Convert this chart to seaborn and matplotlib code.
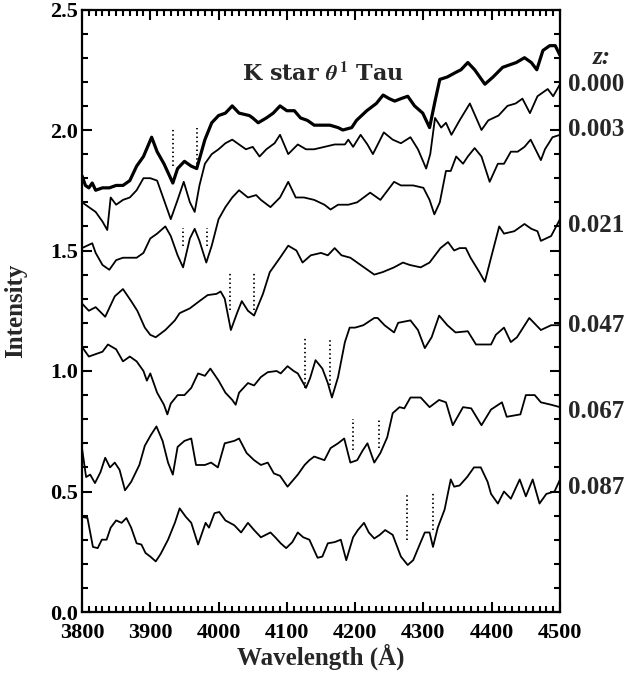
import matplotlib
matplotlib.use("Agg")
import matplotlib.pyplot as plt
from matplotlib.ticker import MultipleLocator, FormatStrFormatter
import pandas as pd
import seaborn as sns

# ---------------- data (wavelength [A], intensity) ----------------
kstar = [(3800,1.81),(3805,1.77),(3810,1.76),(3815,1.78),(3820,1.75),(3830,1.76),(3840,1.76),
         (3850,1.77),(3860,1.77),(3870,1.79),(3880,1.85),(3890,1.89),(3902,1.97),(3910,1.91),
         (3920,1.86),(3933,1.78),(3940,1.84),(3950,1.87),(3960,1.85),(3968,1.84),(3980,1.96),
         (3990,2.03),(4000,2.06),(4010,2.07),(4020,2.10),(4030,2.07),(4045,2.06),(4050,2.05),
         (4058,2.03),(4070,2.05),(4080,2.07),(4090,2.10),(4100,2.08),(4111,2.08),(4120,2.05),
         (4130,2.04),(4140,2.02),(4150,2.02),(4163,2.02),(4175,2.01),(4182,2.00),(4195,2.01),
         (4202,2.04),(4217,2.08),(4231,2.11),(4241,2.145),(4250,2.13),(4258,2.12),(4267,2.13),
         (4277,2.14),(4287,2.10),(4299,2.07),(4309,2.01),(4317,2.12),(4324,2.21),(4335,2.22),
         (4348,2.24),(4355,2.25),(4365,2.28),(4375,2.25),(4390,2.19),(4402,2.22),(4416,2.26),
         (4436,2.28),(4448,2.30),(4458,2.28),(4466,2.25),(4475,2.33),(4485,2.35),(4493,2.35),
         (4500,2.31)]

z000 = [(3800,1.70),(3810,1.68),(3820,1.66),(3830,1.62),(3837,1.585),(3842,1.72),(3850,1.69),
        (3860,1.71),(3870,1.72),(3880,1.75),(3890,1.80),(3900,1.80),(3910,1.79),(3920,1.71),
        (3930,1.63),(3940,1.71),(3949,1.785),(3958,1.70),(3965,1.66),(3972,1.77),(3980,1.86),
        (3990,1.90),(4000,1.92),(4010,1.945),(4020,1.96),(4030,1.94),(4040,1.92),(4050,1.93),
        (4060,1.89),(4070,1.92),(4082,1.945),(4090,1.98),(4102,1.90),(4116,1.94),(4128,1.92),
        (4140,1.92),(4155,1.93),(4170,1.94),(4185,1.94),(4190,1.96),(4197,1.93),(4208,1.98),
        (4218,1.94),(4226,1.90),(4242,1.99),(4255,1.96),(4267,1.945),(4281,1.97),(4292,1.92),
        (4304,1.84),(4310,1.90),(4317,2.05),(4326,2.01),(4333,2.03),(4341,1.98),(4353,2.04),
        (4368,2.11),(4385,2.00),(4395,2.04),(4410,2.06),(4423,2.10),(4435,2.11),(4445,2.13),
        (4456,2.07),(4467,2.14),(4482,2.17),(4490,2.14),(4500,2.19)]

z003 = [(3800,1.51),(3815,1.53),(3820,1.49),(3830,1.44),(3840,1.42),(3850,1.46),(3860,1.47),
        (3870,1.47),(3880,1.47),(3890,1.49),(3900,1.55),(3910,1.57),(3922,1.60),(3930,1.56),
        (3940,1.48),(3948,1.43),(3958,1.55),(3965,1.59),(3972,1.54),(3982,1.45),(3990,1.52),
        (4000,1.63),(4010,1.68),(4020,1.72),(4030,1.75),(4043,1.72),(4055,1.73),(4062,1.71),
        (4076,1.68),(4090,1.72),(4102,1.785),(4113,1.72),(4125,1.72),(4140,1.71),(4155,1.69),
        (4164,1.67),(4175,1.69),(4190,1.69),(4203,1.70),(4222,1.74),(4237,1.71),(4257,1.785),
        (4267,1.77),(4285,1.77),(4300,1.76),(4309,1.71),(4316,1.65),(4324,1.70),(4333,1.83),
        (4340,1.83),(4348,1.89),(4358,1.86),(4365,1.89),(4375,1.925),(4385,1.89),(4397,1.785),
        (4409,1.86),(4418,1.86),(4428,1.91),(4438,1.91),(4448,1.93),(4457,1.96),(4472,1.875),
        (4478,1.92),(4489,1.97),(4500,1.98)]

z021 = [(3800,1.28),(3810,1.25),(3820,1.265),(3834,1.225),(3848,1.31),(3860,1.34),(3872,1.29),
        (3881,1.25),(3892,1.18),(3900,1.15),(3908,1.14),(3922,1.17),(3936,1.21),(3943,1.24),
        (3958,1.26),(3972,1.29),(3984,1.315),(3997,1.32),(4003,1.33),(4009,1.30),(4018,1.17),
        (4027,1.24),(4034,1.29),(4043,1.25),(4052,1.23),(4065,1.32),(4075,1.41),(4090,1.47),
        (4102,1.52),(4114,1.50),(4123,1.45),(4135,1.48),(4150,1.49),(4160,1.48),(4170,1.51),
        (4180,1.48),(4193,1.47),(4213,1.43),(4228,1.40),(4240,1.41),(4257,1.43),(4270,1.45),
        (4280,1.44),(4296,1.43),(4309,1.45),(4325,1.51),(4336,1.535),(4345,1.50),(4353,1.51),
        (4362,1.51),(4369,1.47),(4382,1.41),(4390,1.37),(4399,1.47),(4411,1.60),(4418,1.57),
        (4433,1.58),(4448,1.61),(4458,1.59),(4467,1.58),(4472,1.54),(4487,1.56),(4500,1.63)]

z047 = [(3800,1.10),(3810,1.06),(3820,1.07),(3830,1.08),(3838,1.11),(3850,1.09),(3860,1.04),
        (3870,1.06),(3880,1.04),(3890,1.00),(3895,0.96),(3900,0.99),(3910,0.91),(3920,0.86),
        (3925,0.82),(3930,0.865),(3940,0.90),(3950,0.90),(3960,0.93),(3970,0.99),(3980,0.98),
        (3988,1.01),(4000,0.96),(4010,0.91),(4020,0.88),(4025,0.86),(4030,0.91),(4043,0.95),
        (4052,0.94),(4062,0.975),(4072,0.995),(4085,1.00),(4091,0.99),(4101,1.02),(4110,1.00),
        (4116,0.99),(4128,0.93),(4134,0.97),(4142,1.045),(4152,1.01),(4160,0.95),(4166,0.89),
        (4175,0.975),(4185,1.12),(4192,1.18),(4200,1.18),(4212,1.19),(4228,1.22),(4233,1.22),
        (4243,1.19),(4257,1.16),(4263,1.20),(4281,1.21),(4292,1.17),(4302,1.095),(4312,1.14),
        (4323,1.23),(4335,1.19),(4347,1.16),(4365,1.165),(4377,1.11),(4399,1.11),(4406,1.15),
        (4418,1.18),(4428,1.12),(4437,1.14),(4455,1.22),(4472,1.17),(4487,1.19),(4500,1.19)]

z067 = [(3800,0.68),(3806,0.56),(3812,0.57),(3819,0.535),(3827,0.58),(3834,0.64),(3841,0.60),
        (3848,0.62),(3855,0.59),(3863,0.505),(3872,0.54),(3884,0.61),(3892,0.69),(3901,0.735),
        (3909,0.77),(3918,0.71),(3926,0.62),(3933,0.57),(3940,0.685),(3950,0.71),(3960,0.72),
        (3967,0.61),(3980,0.61),(3989,0.62),(3999,0.60),(4009,0.70),(4023,0.71),(4030,0.72),
        (4041,0.66),(4052,0.63),(4062,0.61),(4072,0.62),(4081,0.575),(4090,0.565),(4101,0.52),
        (4110,0.55),(4116,0.57),(4126,0.61),(4133,0.63),(4140,0.645),(4155,0.63),(4164,0.68),
        (4175,0.70),(4184,0.72),(4193,0.62),(4203,0.63),(4211,0.67),(4218,0.70),(4228,0.62),
        (4237,0.66),(4247,0.725),(4255,0.825),(4265,0.85),(4272,0.845),(4281,0.89),(4296,0.89),
        (4309,0.85),(4323,0.88),(4333,0.87),(4343,0.775),(4358,0.85),(4370,0.845),(4385,0.775),
        (4399,0.84),(4415,0.87),(4422,0.81),(4442,0.82),(4450,0.90),(4463,0.90),(4472,0.87),
        (4487,0.86),(4500,0.85)]

z087 = [(3800,0.395),(3808,0.39),(3816,0.27),(3823,0.265),(3829,0.30),(3836,0.30),(3842,0.35),
        (3850,0.38),(3858,0.37),(3865,0.39),(3872,0.35),(3880,0.285),(3887,0.28),(3893,0.245),
        (3900,0.23),(3908,0.21),(3915,0.24),(3926,0.30),(3936,0.37),(3943,0.43),(3952,0.395),
        (3960,0.37),(3970,0.28),(3981,0.37),(3986,0.35),(3994,0.41),(4001,0.415),(4010,0.38),
        (4023,0.36),(4033,0.33),(4043,0.37),(4052,0.34),(4062,0.31),(4076,0.33),(4083,0.31),
        (4091,0.285),(4099,0.265),(4108,0.29),(4116,0.33),(4124,0.31),(4133,0.30),(4145,0.225),
        (4152,0.23),(4160,0.285),(4170,0.29),(4179,0.30),(4187,0.215),(4197,0.31),(4204,0.34),
        (4213,0.37),(4220,0.33),(4228,0.305),(4236,0.32),(4244,0.34),(4255,0.32),(4267,0.23),
        (4277,0.195),(4285,0.215),(4296,0.29),(4302,0.33),(4309,0.33),(4314,0.27),(4321,0.35),
        (4331,0.425),(4340,0.55),(4345,0.52),(4353,0.525),(4364,0.56),(4374,0.60),(4384,0.60),
        (4394,0.54),(4399,0.49),(4409,0.45),(4418,0.50),(4428,0.47),(4441,0.55),(4450,0.48),
        (4460,0.55),(4470,0.45),(4480,0.49),(4492,0.50),(4500,0.55)]

galaxies = [z000, z003, z021, z047, z067, z087]
z_labels = ["0.000", "0.003", "0.021", "0.047", "0.067", "0.087"]

# Ca II H & K rest wavelengths and the redshifts of the marker pairs
hk_rest = [3933.7, 3968.5]
mark_z = [0.0, 0.0035, 0.021, 0.049, 0.067, 0.087]
mark_top = [2.01, 1.593, 1.407, 1.137, 0.80, 0.494]
mark_bottom = [[1.85, 1.86], [1.52, 1.52], [1.253, 1.253], [0.93, 0.94], [0.672, 0.68], [0.30, 0.34]]

# ---------------- style ----------------
sns.set_style("ticks")
plt.rcParams.update({
    "font.family": ["Liberation Serif", "DejaVu Serif"],
    "font.weight": "bold",
    "axes.labelweight": "bold",
    "mathtext.fontset": "stix",
})

fig = plt.figure(figsize=(6.37, 6.77), dpi=100)
ax = fig.add_axes([82 / 637, 1 - 612 / 677, 478 / 637, 602.5 / 677])

sns.lineplot(data=pd.DataFrame(kstar, columns=["wl", "I"]), x="wl", y="I", ax=ax,
             color="black", linewidth=2.3, estimator=None, sort=False)
for g in galaxies:
    sns.lineplot(data=pd.DataFrame(g, columns=["wl", "I"]), x="wl", y="I", ax=ax,
                 color="black", linewidth=1.3, estimator=None, sort=False)

for z, top, bots in zip(mark_z, mark_top, mark_bottom):
    for rest, bot in zip(hk_rest, bots):
        ax.vlines(rest * (1 + z), bot, top, colors="black", linewidth=1.3,
                  linestyles=(0, (0.8, 1.6)))

ax.set_xlim(3800, 4500)
ax.set_ylim(0, 2.5)
ax.xaxis.set_major_locator(MultipleLocator(100))
ax.xaxis.set_minor_locator(MultipleLocator(10))
ax.yaxis.set_major_locator(MultipleLocator(0.5))
ax.yaxis.set_minor_locator(MultipleLocator(0.1))
ax.yaxis.set_major_formatter(FormatStrFormatter("%.1f"))

for axis in (ax.xaxis, ax.yaxis):
    axis.set_tick_params(which="major", direction="in", length=7.5, width=1.5,
                         color="black", bottom=True, top=True, left=True, right=True)
    axis.set_tick_params(which="minor", direction="in", length=4.2, width=1.5,
                         color="black", bottom=True, top=True, left=True, right=True)
ax.xaxis.set_tick_params(which="major", pad=8, labelsize=16, labelcolor="black")
ax.yaxis.set_tick_params(which="major", pad=3, labelsize=16, labelcolor="black")
for lbl in ax.get_xticklabels() + ax.get_yticklabels():
    lbl.set_fontweight("bold")
for sp in ax.spines.values():
    sp.set_visible(True)
    sp.set_linewidth(1.6)
    sp.set_color("black")

ax.set_xlabel("Wavelength (Å)", fontsize=18, fontweight="bold")
ax.set_ylabel("Intensity", fontsize=18, fontweight="bold")
ax.xaxis.set_label_coords(0.5, -0.0747)
ax.xaxis.label.set_va("center")
ax.yaxis.set_label_coords(-0.139, 0.5)
ax.yaxis.label.set_va("center")

ax.text(0.335, 0.893, r"K star $\theta^{\rm 1}$ Tau", transform=ax.transAxes,
        ha="left", va="center", fontsize=16, fontweight="bold",
        family=["DejaVu Serif"])

label_y = [0.875, 0.800, 0.642, 0.476, 0.332, 0.207]
ax.text(1.069, 0.921, "z:", transform=ax.transAxes, ha="left", va="center",
        fontsize=18, fontweight="bold", fontstyle="italic", clip_on=False)
for lab, yy in zip(z_labels, label_y):
    ax.text(1.017, yy, lab, transform=ax.transAxes, ha="left", va="center",
            fontsize=18, fontweight="bold", clip_on=False)

fig.canvas.draw()
fig.savefig("out.png", dpi=100)
